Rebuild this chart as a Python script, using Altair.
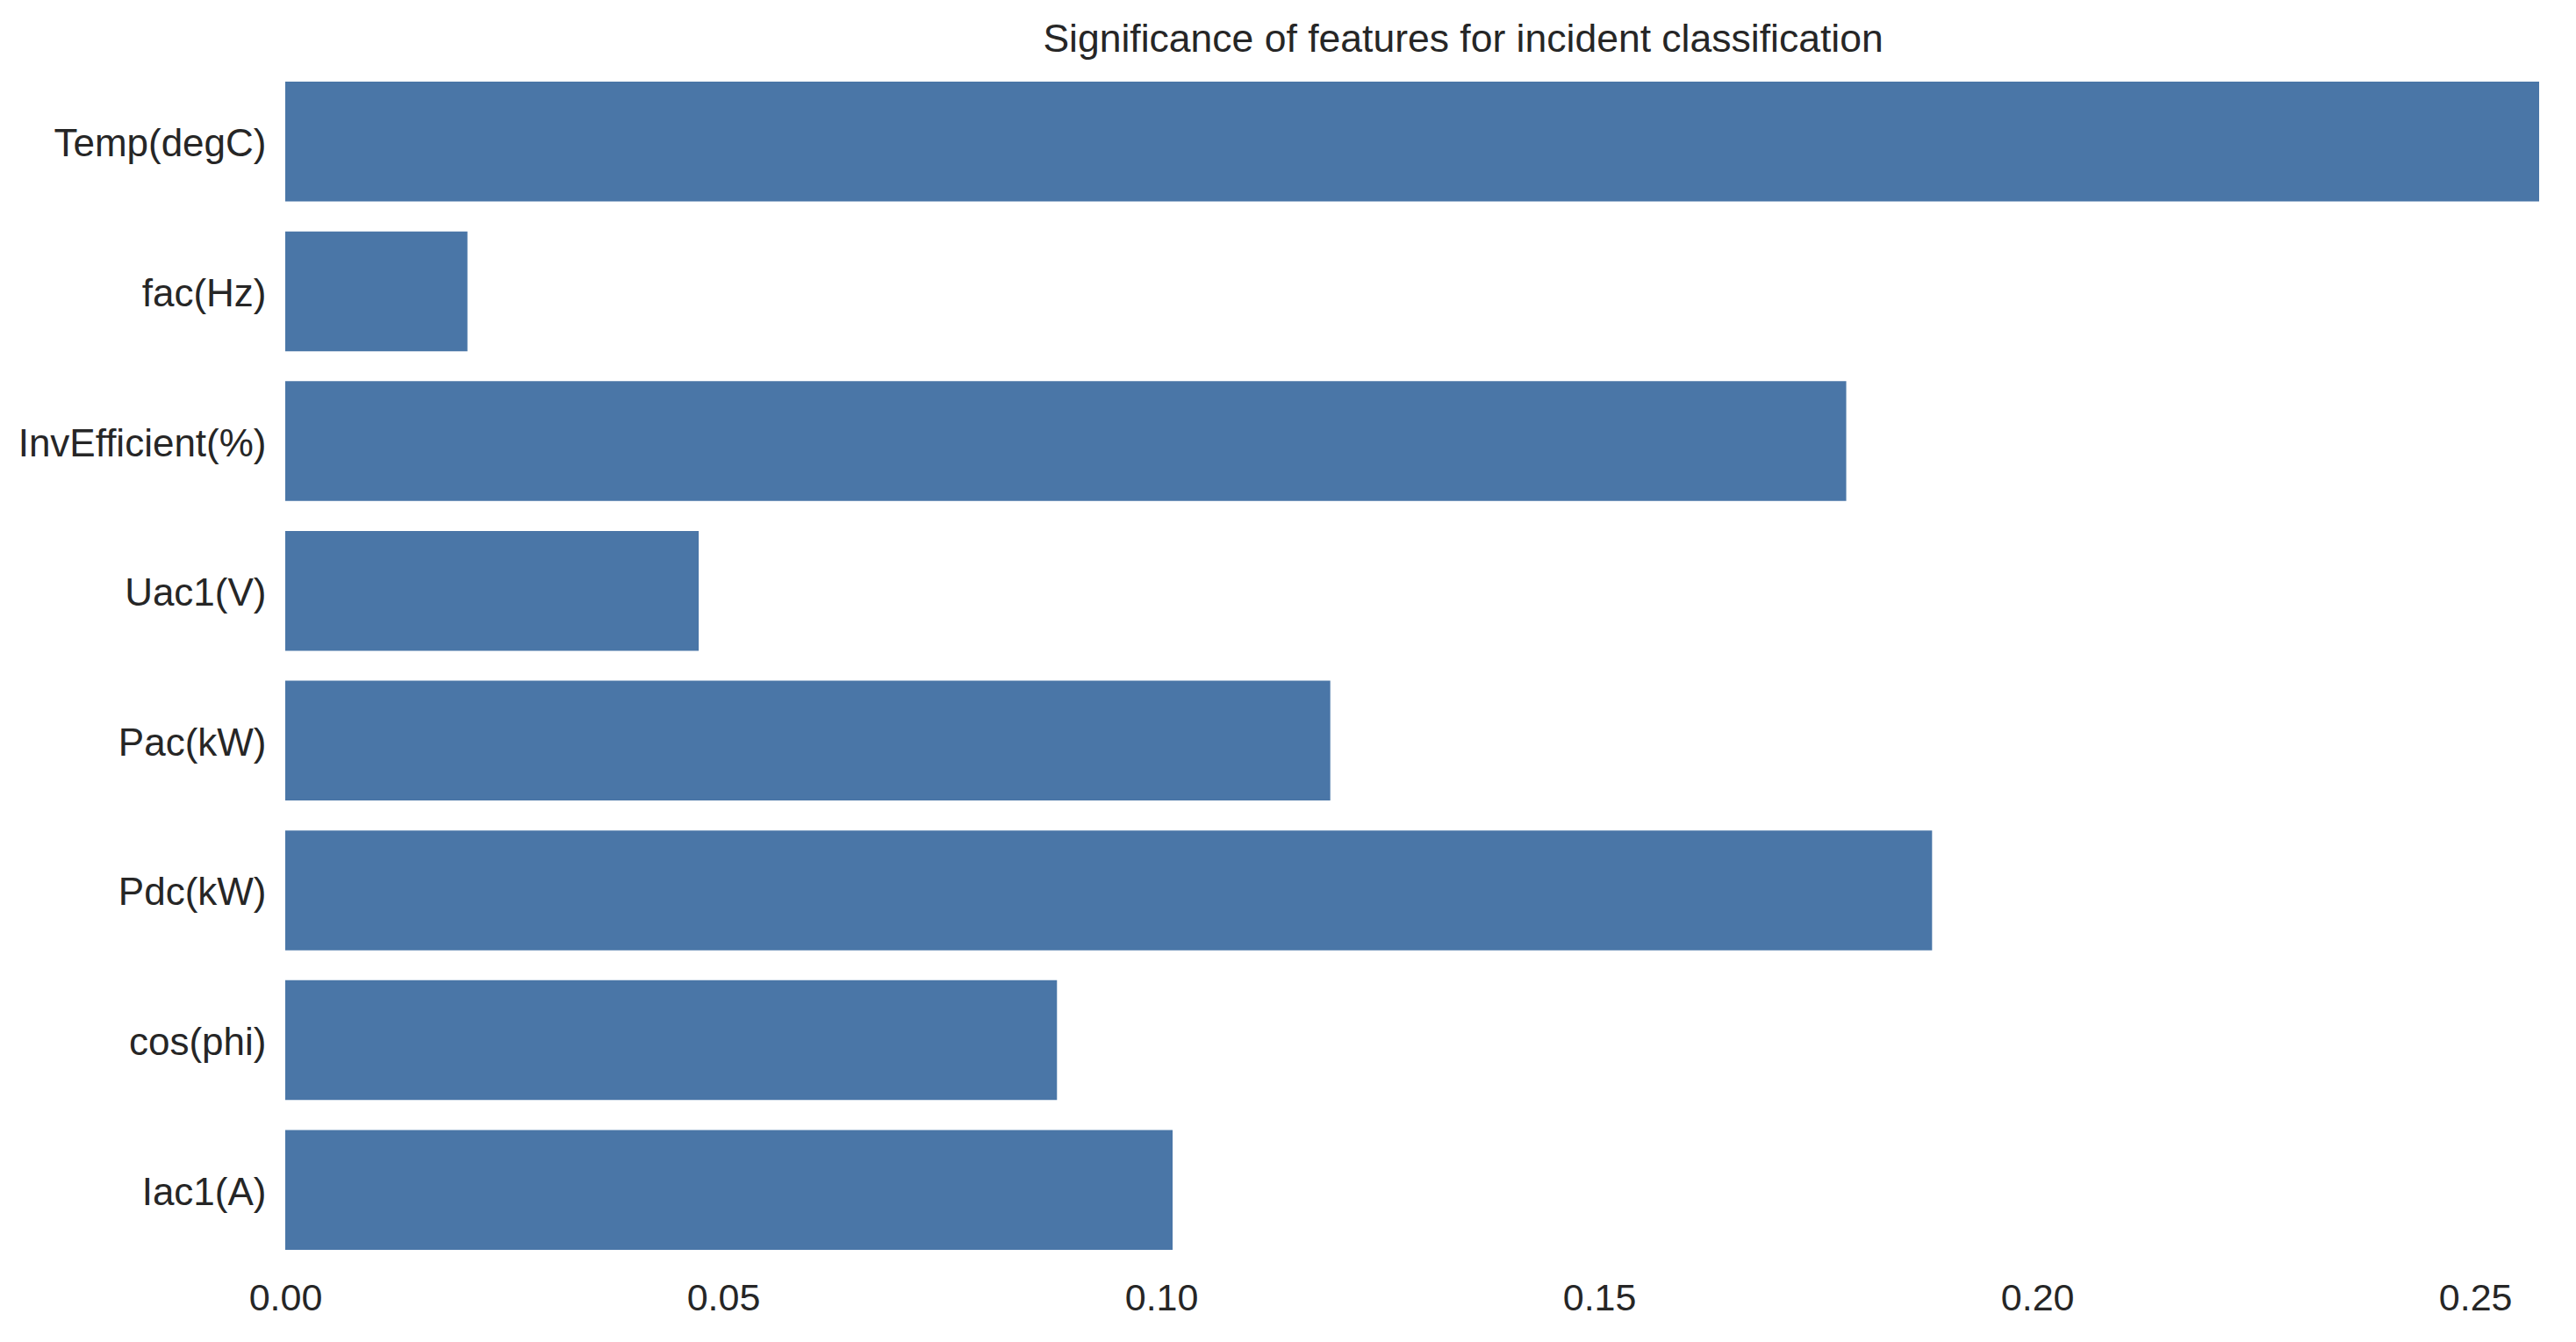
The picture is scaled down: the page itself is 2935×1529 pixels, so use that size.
import altair as alt
import pandas as pd

features = ["Temp(degC)", "fac(Hz)", "InvEfficient(%)", "Uac1(V)",
            "Pac(kW)", "Pdc(kW)", "cos(phi)", "Iac1(A)"]
importance = [0.2573, 0.0208, 0.1782, 0.0472, 0.1193, 0.1880, 0.0881, 0.1013]
x_ticks = [0.00, 0.05, 0.10, 0.15, 0.20, 0.25]
title_text = "Significance of features for incident classification"

df = pd.DataFrame({"feature": features, "importance": importance})

FONT = "Liberation Sans"
TXT = "#262626"

chart = alt.Chart(df).mark_bar(color="#4a76a7").encode(
    x=alt.X(
        "importance:Q",
        scale=alt.Scale(domain=[0, max(importance)], nice=False, zero=True),
        axis=alt.Axis(
            values=x_ticks, format=".2f", title=None, domain=False,
            ticks=False, tickSize=0, grid=False, labelFlush=False,
            labelFont=FONT, labelFontSize=43, labelColor=TXT, labelPadding=17,
        ),
    ),
    y=alt.Y(
        "feature:N", sort=features,
        scale=alt.Scale(paddingInner=0.2, paddingOuter=0.1),
        axis=alt.Axis(
            title=None, domain=False, ticks=False, tickSize=0, grid=False,
            labelFont=FONT, labelFontSize=44, labelColor=TXT, labelPadding=22,
            labelLimit=0, labelOffset=4,
        ),
    ),
).properties(
    width=2568,
    height=1365,
    title=alt.TitleParams(
        text=title_text, font=FONT, fontSize=44.5, fontWeight="normal",
        color=TXT, offset=8, dx=58, anchor="middle", frame="group",
    ),
    padding={"left": 317, "top": 68, "right": 30, "bottom": 78},
    autosize=alt.AutoSizeParams(type="none"),
).configure_view(stroke=None)

chart.save("out.html", embed_options={"renderer": "svg", "actions": False})
